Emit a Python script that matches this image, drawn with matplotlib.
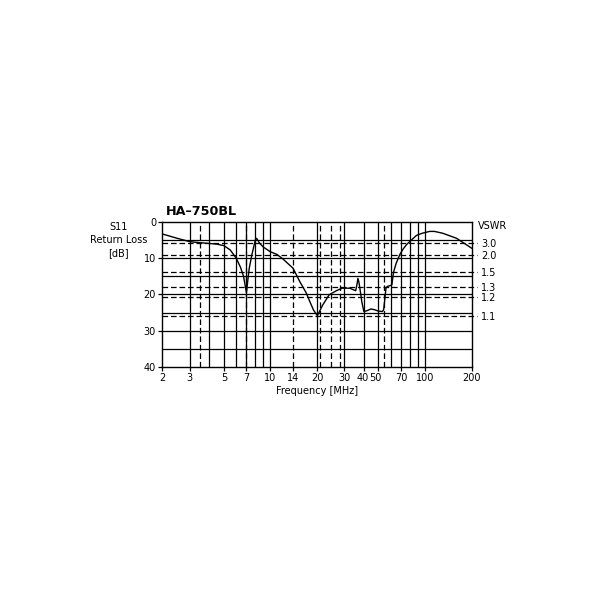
import matplotlib
matplotlib.use("Agg")
import matplotlib.pyplot as plt
import matplotlib.transforms as mtransforms

# ---- data ----
freq_mhz = [2.0, 2.5, 3.0, 3.5, 4.0, 4.5, 5.0, 5.5, 6.0, 6.4, 6.7, 6.9, 7.0,
            7.15, 7.3, 7.6, 8.0, 8.15, 8.5, 9.0, 10.0, 11.0, 12.0, 14.0, 15.5,
            17.0, 18.0, 19.0, 20.1, 20.6, 21.8, 24.0, 26.7, 29.0, 32.6, 35.6,
            36.4, 36.8, 37.3, 37.8, 39.0, 40.2, 42.0, 44.7, 47.0, 50.0, 53.0,
            54.0, 55.9, 57.0, 58.5, 61.0, 62.5, 65.0, 68.6, 72.0, 76.0, 80.0,
            88.0, 96.0, 107.0, 115.0, 130.0, 160.0, 200.0]
return_loss_db = [3.4, 4.6, 5.5, 5.8, 6.0, 6.2, 6.6, 7.8, 10.0, 12.5, 15.0, 18.0, 19.6,
                  16.0, 12.8, 9.0, 5.0, 4.6, 5.9, 7.0, 8.3, 9.0, 10.2, 12.8, 16.5,
                  19.5, 22.0, 24.3, 25.8, 25.0, 22.9, 20.1, 19.0, 18.3, 18.3, 19.0,
                  17.0, 15.6, 16.5, 18.0, 22.0, 24.7, 24.5, 24.0, 24.2, 24.6, 24.7,
                  24.2, 18.3, 17.8, 17.7, 17.4, 14.0, 11.5, 9.1, 7.6, 6.3, 5.4,
                  3.8, 3.2, 2.7, 2.7, 3.2, 4.6, 7.3]

x_tick_values = [2, 3, 5, 7, 10, 14, 20, 30, 40, 50, 70, 100, 200]
x_tick_labels = ["2", "3", "5", "7", "10", "14", "20", "30", "40", "50", "70", "100", "200"]
y_tick_values = [0, 10, 20, 30, 40]

solid_freq_grid = [3, 4, 5, 6, 7, 8, 9, 10, 20, 30, 40, 50, 60, 70, 80, 90, 100]
dashed_freq_grid = [3.5, 7, 14, 21, 24.5, 28, 54]
solid_db_grid = [5, 10, 15, 20, 25, 30, 35]

vswr_labels = ["3.0", "2.0", "1.5", "1.3", "1.2", "1.1"]
vswr_db = [6.0, 9.3, 13.9, 18.0, 20.8, 25.9]

ylabel_lines = ["S11", "Return Loss", "[dB]"]

FS = 7.0

# ---- figure ----
fig = plt.figure(figsize=(6, 6), dpi=100)
ax = fig.add_axes([0.2705, 0.388, 0.5155, 0.2427])
ax.set_xscale("log")
ax.set_xlim(2, 200)
ax.set_ylim(40, 0)

lw_grid = 0.9
dash = (0, (4.5, 2.3))
for f in solid_freq_grid:
    ax.axvline(f, color="black", lw=lw_grid, zorder=1)
for f in dashed_freq_grid:
    ax.axvline(f, color="black", lw=lw_grid, linestyle=dash, zorder=1)
for d in solid_db_grid:
    ax.axhline(d, color="black", lw=lw_grid, zorder=1)
ax.hlines(vswr_db, 0, 1.018, transform=ax.get_yaxis_transform(),
          colors="black", lw=lw_grid, linestyles=[dash], clip_on=False, zorder=1)

ax.plot(freq_mhz, return_loss_db, color="black", lw=1.0, zorder=3)

ax.set_xticks(x_tick_values)
ax.set_xticklabels(x_tick_labels)
ax.xaxis.set_minor_locator(matplotlib.ticker.NullLocator())
ax.set_yticks(y_tick_values)
ax.tick_params(axis="both", which="major", direction="out", length=3, width=0.9,
               labelsize=FS, pad=1.5, colors="black")
for s in ax.spines.values():
    s.set_linewidth(1.0)
    s.set_color("black")

# nudge the crowded "40" / "50" labels like the reference
for lbl in ax.get_xticklabels():
    if lbl.get_text() == "50":
        lbl.set_transform(lbl.get_transform() +
                          mtransforms.ScaledTranslation(-3.5 / 100, 0, fig.dpi_scale_trans))
    if lbl.get_text() == "40":
        lbl.set_transform(lbl.get_transform() +
                          mtransforms.ScaledTranslation(-1.0 / 100, 0, fig.dpi_scale_trans))

ax2 = ax.twinx()
ax2.set_ylim(40, 0)
ax2.set_yticks(vswr_db)
ax2.set_yticklabels(vswr_labels)
ax2.tick_params(axis="y", length=0, pad=7, labelsize=FS, colors="black")
for s in ax2.spines.values():
    s.set_visible(False)

ax.set_xlabel("Frequency [MHz]", fontsize=FS, labelpad=2)
for txt, ypx in zip(ylabel_lines, [227.0, 240.0, 253.0]):
    fig.text(0.197, 1 - ypx / 600, txt, ha="center", va="center", fontsize=FS)
fig.text(0.277, 0.648, "HA\u2013750BL", ha="left", va="center", fontsize=9.2,
         fontweight="bold")
fig.text(0.796, 0.624, "VSWR", ha="left", va="center", fontsize=FS)

fig.savefig("out.png", dpi=100, facecolor="white")
